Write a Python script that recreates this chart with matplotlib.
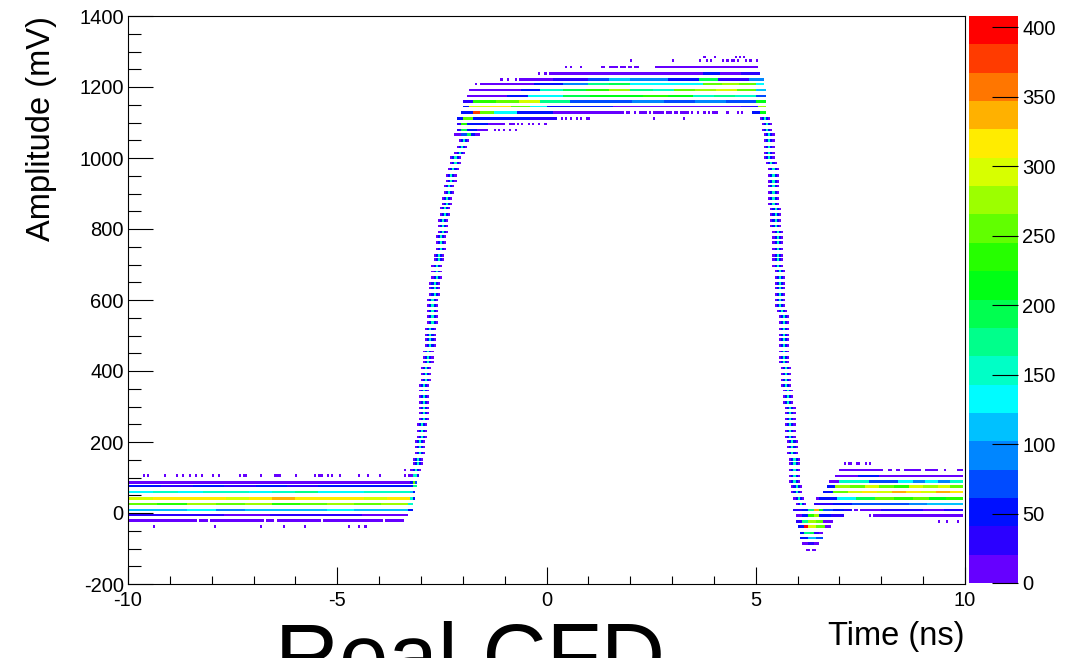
import numpy as np
import matplotlib
matplotlib.use("Agg")
import matplotlib.pyplot as plt
from matplotlib.colors import ListedColormap, BoundaryNorm

plt.rcParams['font.family'] = ['Liberation Sans', 'DejaVu Sans']
plt.rcParams['axes.unicode_minus'] = False

# ---------------- data ----------------
# solid runs on one ADC level: (amplitude mV, t start ns, t end ns, entries per equal piece)
baseline_runs = [
    (106, -3.30, -3.03, [20, 150, 40]),
    (87, -10.0, -3.20, [12, 10, 14, 11, 13, 10, 12]),
    (87, -3.20, -3.07, [60, 250, 80]),
    (75, -10.0, -3.15, [45, 35, 45, 40, 50, 38, 45, 42, 50]),
    (75, -3.15, -3.08, [180]),
    (58, -10.0, -3.25, [140, 150, 135, 160, 145, 130, 150, 165, 140, 135, 150, 145]),
    (58, -3.25, -3.10, [120, 60]),
    (42, -10.0, -3.25, [305, 312, 325, 308, 300, 318, 330, 306, 312, 322, 304, 310]),
    (42, -3.25, -3.10, [150, 60]),
    (25, -10.0, -3.30, [260, 240, 280, 250, 270, 240, 262, 285, 250, 268]),
    (25, -3.30, -3.18, [150]),
    (8, -10.0, -3.30, [120, 110, 130, 100, 122, 115, 105, 125, 112, 118]),
    (8, -3.30, -3.15, [60]),
    (-5, -10.0, -3.27, [25, 30, 20, 28, 25, 20]),
    (-22, -10.0, -9.40, [4]), (-22, -9.36, -9.14, [4]), (-22, -9.11, -8.33, [4]),
    (-22, -8.29, -8.10, [3]), (-22, -8.05, -6.73, [4]), (-22, -6.69, -6.46, [3]),
    (-22, -6.42, -6.30, [3]), (-22, -6.26, -5.38, [4]), (-22, -5.34, -3.87, [4]),
    (-22, -3.83, -3.39, [3]),
]

plateau_runs = [
    (1257, 1.52, 1.72, [5]), (1257, 1.76, 1.94, [5]), (1257, 1.97, 2.07, [5]),
    (1257, 2.11, 2.22, [5]), (1257, 2.61, 5.06, [6]),
    (1239, 0.07, 3.75, [8, 10, 12]), (1239, 3.75, 4.15, [50]), (1239, 4.15, 5.14, [12, 30]),
    (1221, -0.51, 0.20, [10]), (1221, 0.20, 1.00, [30]), (1221, 1.00, 2.95, [80, 110, 90, 100]),
    (1221, 2.95, 3.67, [60]), (1221, 3.67, 4.14, [200]), (1221, 4.14, 5.22, [40, 30, 90]),
    (1209, -1.55, -0.27, [10, 15]), (1209, -0.27, 0.44, [50]), (1209, 0.44, 1.00, [90]),
    (1209, 1.00, 2.00, [170, 190]), (1209, 2.00, 3.75, [130, 140, 125]),
    (1209, 3.75, 5.02, [260, 280, 250]), (1209, 5.02, 5.22, [130]),
    (1192, -1.83, -0.59, [12, 18]), (1192, -0.59, -0.11, [60]), (1192, -0.11, 1.52, [150, 200, 240]),
    (1192, 1.52, 2.00, [280]), (1192, 2.00, 3.10, [180, 150]),
    (1192, 3.10, 5.02, [250, 270, 290, 260]), (1192, 5.02, 5.26, [120]),
    (1175, -1.88, -0.91, [10, 15]), (1175, -0.91, -0.43, [60]), (1175, -0.43, 0.44, [130]),
    (1175, 0.44, 3.50, [200, 220, 210, 230, 215]), (1175, 3.50, 5.02, [160, 180, 150]),
    (1175, 5.02, 5.26, [70]),
    (1159, -1.95, -1.71, [40]), (1159, -1.71, -0.60, [240, 260]), (1159, -0.60, -0.10, [300]),
    (1159, -0.10, 0.60, [170]), (1159, 0.60, 5.02, [80, 70, 90, 75, 85, 70]),
    (1159, 5.02, 5.30, [210]),
    (1145, -1.99, -1.83, [50]), (1145, -1.83, -0.35, [290, 320, 260]), (1145, -0.35, 0.04, [130]),
    (1145, 0.04, 1.64, [60, 50]), (1145, 1.64, 4.70, [15, 18, 12]), (1145, 4.70, 5.10, [40]),
    (1145, 5.10, 5.26, [280]),
    (1129, -2.03, -1.75, [60]), (1129, -1.75, -1.55, [370]), (1129, -1.55, -1.23, [260]),
    (1129, -1.23, -0.67, [140]), (1129, -0.67, 0.20, [55]), (1129, 0.20, 1.88, [12]),
    (1129, 1.95, 2.03, [6]), (1129, 2.11, 2.15, [6]), (1129, 2.22, 2.41, [6]),
    (1129, 2.46, 2.54, [6]), (1129, 2.59, 2.83, [6]), (1129, 2.89, 3.01, [5]),
    (1129, 3.07, 3.19, [5]), (1129, 3.23, 3.31, [5]), (1129, 3.35, 3.43, [5]),
    (1129, 3.47, 3.55, [5]), (1129, 3.63, 3.67, [4]), (1129, 3.75, 3.79, [4]),
    (1129, 3.87, 3.91, [4]), (1129, 3.99, 4.11, [4]), (1129, 4.90, 5.30, [60, 210]),
    (1112, -2.11, -2.00, [50]), (1112, -2.00, -1.71, [250]), (1112, -1.71, 0.28, [60, 50, 35]),
    (1096, -2.11, -2.03, [40]), (1096, -2.03, -1.87, [230]), (1096, -1.87, -1.39, [60]),
    (1096, -1.39, -0.95, [12]), (1096, -0.87, -0.71, [4]),
    (1078, -2.11, -2.03, [40]), (1078, -2.03, -1.87, [200]), (1078, -1.87, -1.60, [60]),
    (1078, -1.60, -1.35, [12]),
    (1066, -2.19, -1.55, [20, 80, 200, 60, 10]),
]

undershoot_runs = [
    (8, 5.93, 6.30, [25, 50]), (8, 6.30, 6.62, [180, 330, 220]), (8, 6.62, 7.33, [70, 45, 30]),
    (8, 7.37, 7.45, [10]), (8, 7.53, 10.0, [20, 30, 25, 20, 30]),
    (-6, 5.97, 6.30, [20, 45]), (-6, 6.30, 6.55, [240, 280]), (-6, 6.55, 7.13, [60, 25]),
    (-6, 7.85, 8.55, [3]), (-6, 8.60, 9.30, [3]), (-6, 9.35, 10.0, [3]),
    (-23, 5.98, 6.14, [40]), (-23, 6.14, 6.30, [170]), (-23, 6.30, 6.61, [270, 250]),
    (-23, 6.61, 6.89, [12]),
    (-39, 6.02, 6.18, [60]), (-39, 6.18, 6.30, [390]), (-39, 6.30, 6.69, [300, 260]),
    (-39, 6.69, 6.85, [12]),
    (-56, 6.06, 6.18, [50]), (-56, 6.18, 6.42, [170, 190]), (-56, 6.42, 6.65, [40, 15]),
    (-70, 6.10, 6.61, [50, 110, 70]),
    (-86, 6.12, 6.52, [15, 40, 15]),
]

tail_runs = [
    (122, 7.01, 8.09, [8]), (122, 8.19, 8.25, [4]), (122, 8.37, 8.45, [4]),
    (122, 8.57, 8.96, [5]), (122, 9.08, 9.40, [5]), (122, 9.80, 9.96, [4]),
    (105, 6.92, 10.0, [10, 45, 12, 15, 10, 15]),
    (88, 6.76, 7.05, [10]), (88, 7.05, 10.0, [150, 160, 70, 80, 130, 90, 140, 100, 150]),
    (74, 6.73, 6.93, [60]), (74, 6.93, 10.0, [280, 260, 300, 250, 240, 290, 270, 300, 260]),
    (58, 6.65, 6.90, [60]), (58, 6.90, 10.0, [260, 300, 320, 290, 340, 310, 300, 330, 310]),
    (41, 6.53, 10.0, [50, 140, 200, 250, 230, 260, 220, 240]),
    (25, 6.42, 10.0, [25, 60, 70, 80, 75, 100, 110, 120]),
]

# isolated single hits: (amplitude mV, [times ns])
dot_rows = [
    (122, [-3.39]),
    (106, [-9.64, -9.52, -9.11, -8.85, -8.69, -8.53, -8.37, -8.25, -7.97, -7.81, -7.33, -7.25,
           -7.17, -6.81, -6.49, -6.43, -6.37, -5.98, -5.52, -5.44, -5.36, -5.20, -5.12, -4.94,
           -4.50, -4.27, -3.95, -3.39]),
    (-38, [-9.36, -7.94, -6.83, -6.28, -5.76, -4.70, -4.50, -4.34]),
    (1285, [3.80, 4.05, 4.54, 4.61, 4.73]),
    (1273, [2.04, 3.05, 3.68, 3.83, 3.91, 4.22, 4.32, 4.40, 4.48, 4.58, 4.77, 4.86, 5.00]),
    (1257, [0.46, 0.60, 0.83, 1.32, 1.40]),
    (1239, [-0.15, -0.02]),
    (1221, [-1.09, -0.94, -0.72, -0.64, -0.56]),
    (1209, [-1.69, -1.59]),
    (1129, [4.34, 4.58, 4.69]),
    (1112, [0.36, 0.48, 0.60, 0.72, 0.83, 0.97, 1.05, 2.59, 3.28]),
    (1096, [-0.67, -0.55, -0.43, -0.31, -0.15, -0.04]),
    (1078, [-1.23, -1.15, -1.03, -0.87, -0.75]),
    (139, [7.13, 7.21, 7.29, 7.41, 7.49, 7.61, 7.73]),
    (122, [9.52]),
    (41, [6.47]),
    (-6, [7.71]),
    (-23, [9.40, 9.60, 9.80]),
    (-103, [6.24, 6.30, 6.36, 6.42]),
]

# leading and trailing edge: one short cluster per ADC level
rise_mv = [1049, 1032, 1015, 1001, 985, 968, 951, 935, 921, 904, 887, 870, 858, 841, 824,
           808, 791, 778, 761, 744, 727, 714, 697, 680, 663, 647, 634, 617, 600, 583,
           570, 553, 536, 519, 502, 489, 472, 455, 438, 425, 409, 392, 375, 359, 345,
           329, 312, 295, 282, 265, 248, 231, 215, 202, 185, 168, 151, 138, 121]
rise_t = [-1.99, -2.05, -2.08, -2.16, -2.19, -2.23, -2.27, -2.27, -2.32, -2.32, -2.36, -2.37,
          -2.41, -2.43, -2.45, -2.47, -2.50, -2.52, -2.53, -2.54, -2.57, -2.57, -2.60, -2.62,
          -2.62, -2.65, -2.66, -2.68, -2.70, -2.70, -2.70, -2.72, -2.74, -2.77, -2.77, -2.78,
          -2.78, -2.82, -2.82, -2.84, -2.85, -2.86, -2.87, -2.90, -2.90, -2.91, -2.92, -2.93,
          -2.93, -2.94, -2.97, -2.98, -3.00, -3.02, -3.02, -3.02, -3.06, -3.09, -3.12]
fall_mv = [1112, 1096, 1079, 1066, 1049, 1032, 1015, 1002, 985, 968, 951, 934, 921, 904, 887,
           870, 857, 841, 824, 808, 791, 777, 761, 744, 727, 714, 697, 681, 664, 647,
           634, 617, 600, 583, 570, 553, 536, 519, 502, 489, 472, 455, 438, 425, 409,
           392, 375, 359, 345, 329, 312, 295, 282, 265, 248, 231, 215, 202, 185, 168,
           152, 139, 122, 105, 88, 74, 58, 41, 25]
fall_t = [5.24, 5.26, 5.28, 5.31, 5.32, 5.32, 5.34, 5.34, 5.36, 5.40, 5.40, 5.40, 5.41, 5.43,
          5.44, 5.44, 5.46, 5.46, 5.47, 5.48, 5.51, 5.51, 5.52, 5.53, 5.53, 5.55, 5.55, 5.56,
          5.58, 5.58, 5.60, 5.60, 5.60, 5.60, 5.63, 5.65, 5.65, 5.65, 5.67, 5.67, 5.67, 5.68,
          5.68, 5.70, 5.72, 5.74, 5.74, 5.74, 5.75, 5.75, 5.79, 5.81, 5.81, 5.81, 5.81, 5.82,
          5.85, 5.86, 5.86, 5.86, 5.90, 5.90, 5.92, 5.92, 5.95, 5.99, 5.99, 6.02, 6.08]
edge_profile = [10, 60, 150, 60, 10]

z_max = 408
palette = ['#6600ff', '#2b00ff', '#0010ff', '#004bff', '#0086ff', '#00c1ff', '#00fcff',
           '#00ffc6', '#00ff8b', '#00ff50', '#00ff15', '#26ff00', '#61ff00', '#9cff00',
           '#d7ff00', '#ffec00', '#ffb100', '#ff7600', '#ff3b00', '#ff0000']

# ---------------- histogram ----------------
t_edges = np.linspace(-10, 10, 401)
mv_edges = np.linspace(-200, 1400, 641)
mv_centres = 0.5 * (mv_edges[:-1] + mv_edges[1:])
H = np.zeros((len(mv_edges) - 1, len(t_edges) - 1))
level_halfwidth = 3.5  # mV drawn around each ADC level


def col(t):
    return int(np.clip(np.searchsorted(t_edges, t, side='right') - 1, 0, H.shape[1] - 1))


def rows(mv):
    return np.where(np.abs(mv_centres - mv) <= level_halfwidth)[0]


def put(mv, cols, value):
    for r in rows(mv):
        H[r, cols] = np.maximum(H[r, cols], value)


for mv, t0, t1, counts in baseline_runs + plateau_runs + undershoot_runs + tail_runs:
    c0, c1 = col(t0), col(t1)
    c1 = max(c1, c0 + 1)
    for piece, value in zip(np.array_split(np.arange(c0, min(c1, H.shape[1])), len(counts)), counts):
        put(mv, piece, value)

for mv, times in dot_rows:
    for t in times:
        put(mv, col(t), 2)

for mvs, ts in [(rise_mv, rise_t), (fall_mv, fall_t)]:
    for mv, t in zip(mvs, ts):
        c = col(t)
        for k, value in enumerate(edge_profile):
            put(mv, c - 2 + k, value)

# ---------------- drawing ----------------
fig = plt.figure(figsize=(10.74, 6.58), dpi=100)
ax = fig.add_axes([128 / 1074, 74 / 658, 837 / 1074, 568 / 658])
cax = fig.add_axes([969 / 1074, 75 / 658, 49 / 1074, 567 / 658])

cmap = ListedColormap(palette)
cmap.set_bad('white')
norm = BoundaryNorm(np.linspace(0, z_max, len(palette) + 1), len(palette))
mesh = ax.pcolormesh(t_edges, mv_edges, np.ma.masked_equal(H, 0), cmap=cmap, norm=norm)

ax.set_xlim(-10, 10)
ax.set_ylim(-200, 1400)
ax.set_xticks(np.arange(-10, 11, 5))
ax.set_xticks(np.arange(-10, 11, 1), minor=True)
ax.set_yticks(np.arange(-200, 1401, 200))
ax.set_yticks(np.arange(-200, 1401, 50), minor=True)
ax.tick_params(axis='x', which='major', direction='in', length=12.2, width=0.8,
               labelsize=14.5, pad=5)
ax.tick_params(axis='x', which='minor', direction='in', length=6.1, width=0.8)
ax.tick_params(axis='y', which='major', direction='in', length=18, width=0.8,
               labelsize=14.5, pad=3)
ax.tick_params(axis='y', which='minor', direction='in', length=9, width=0.8)
for s in ax.spines.values():
    s.set_linewidth(0.8)

cb = fig.colorbar(mesh, cax=cax, ticks=np.arange(0, 401, 50))
cb.outline.set_visible(False)
cax.tick_params(direction='in', length=18.7, width=0.8, labelsize=14.5, pad=3)
cax.minorticks_off()

fig.text(42 / 1074, 1 - 16 / 658, "Amplitude (mV)", rotation=90, ha='center', va='top',
         fontsize=23.5)
fig.text(965 / 1074, 1 - 637 / 658, "Time (ns)", ha='right', va='center', fontsize=23.5)
fig.text(470 / 1074, (658 - 686) / 658, "Real CFD", ha='center', va='baseline', fontsize=64)

fig.savefig("out.png", dpi=100)
